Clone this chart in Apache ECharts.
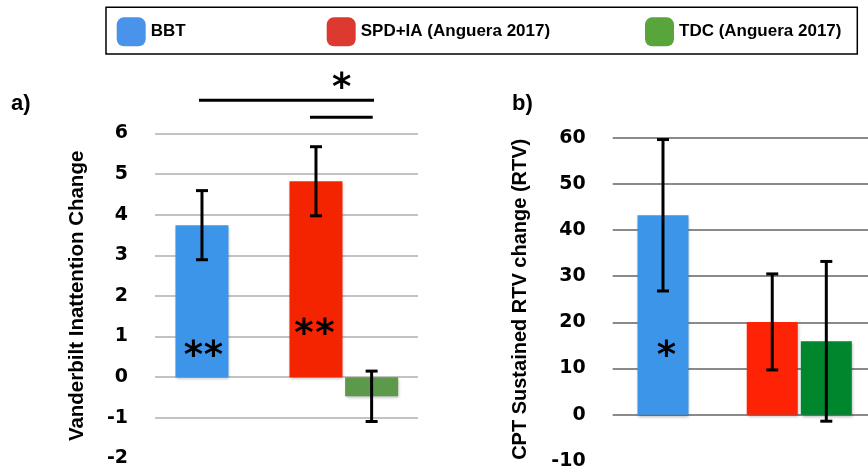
<!DOCTYPE html>
<html><head><meta charset="utf-8">
<script src="https://cdn.jsdelivr.net/npm/echarts@6/dist/echarts.min.js"></script>
<style>html,body{margin:0;padding:0;background:#fff}#c{width:868px;height:475px}</style>
</head><body><div id="c"></div>
<script>
// ---- data ----
const groups = ['BBT', 'Anguera 2017'];
const seriesNames = ['BBT', 'SPD+IA (Anguera 2017)', 'TDC (Anguera 2017)'];
// panel a) Vanderbilt Inattention Change
const aBBT = [3.74, null];
const aSPD = [null, 4.82];
const aTDC = [null, -0.47];
const aBBTerr = [0.85, null];
const aSPDerr = [null, 0.85];
const aTDCerr = [null, 0.62];
const aTicks = [-2, -1, 0, 1, 2, 3, 4, 5, 6];
// panel b) CPT Sustained RTV change (RTV)
const bBBT = [43.2, null];
const bSPD = [null, 20.1];
const bTDC = [null, 15.9];
const bBBTerr = [16.4, null];
const bSPDerr = [null, 10.4];
const bTDCerr = [null, 17.3];
const bTicks = [-10, 0, 10, 20, 30, 40, 50, 60];

// ---- styles ----
const legendColors = ['#4a93ea', '#dc3a30', '#57a53b'];
const aColors = ['#3d95ea', '#f42400', '#5c994b'];
const bColors = ['#3d95ea', '#ff2306', '#00872e'];
const SANS = 'Liberation Sans';
const tickFont = {fontFamily: 'DejaVu Sans', fontWeight: 'bold', fontSize: 19, color: '#000'};

const chart = echarts.init(document.getElementById('c'), null, {renderer: 'canvas'});

function bgAxes(ticks, grid, gridColor) {
  const lineColors = ticks.map((t, i) => i === 0 ? 'rgba(0,0,0,0)' : gridColor);
  return {
    x: {type: 'value', gridIndex: grid, show: false, min: 0, max: 1},
    y: {type: 'value', gridIndex: grid, min: ticks[0], max: ticks[ticks.length - 1],
        interval: ticks[1] - ticks[0],
        axisLine: {show: false}, axisTick: {show: false},
        axisLabel: Object.assign({margin: 27}, tickFont),
        splitLine: {show: true, lineStyle: {color: lineColors, width: 2}}}
  };
}
function barAxes(ticks, grid) {
  return {
    x: {type: 'category', gridIndex: grid, data: groups, show: false},
    y: {type: 'value', gridIndex: grid, show: false, min: ticks[0], max: ticks[ticks.length - 1],
        interval: ticks[1] - ticks[0], splitLine: {show: false}}
  };
}
const shadow = {shadowColor: 'rgba(0,0,0,0.28)', shadowBlur: 3, shadowOffsetX: 1, shadowOffsetY: 2};
function barSeries(name, vals, color, ax, stack, barW, gap) {
  return {type: 'bar', name: name, data: vals.map(v => v == null ? '-' : v),
    xAxisIndex: ax, yAxisIndex: ax, stack: stack, barWidth: barW, barGap: gap,
    itemStyle: Object.assign({color: color}, shadow), silent: true, z: 3};
}
function errSeries(name, vals, errs, ax, offset) {
  const data = [];
  vals.forEach((v, i) => { if (v != null) data.push([i, v - errs[i], v + errs[i]]); });
  return {type: 'custom', name: name + ' err', xAxisIndex: ax, yAxisIndex: ax, z: 10, silent: true,
    encode: {x: 0, y: [1, 2]}, data: data,
    renderItem: function (params, api) {
      const c = api.value(0);
      const lo = api.coord([c, api.value(1)]);
      const hi = api.coord([c, api.value(2)]);
      const x = lo[0] + offset, cap = 6;
      const st = {stroke: '#000', lineWidth: 3};
      return {type: 'group', children: [
        {type: 'line', shape: {x1: x, y1: hi[1], x2: x, y2: lo[1]}, style: st},
        {type: 'line', shape: {x1: x - cap, y1: hi[1], x2: x + cap, y2: hi[1]}, style: st},
        {type: 'line', shape: {x1: x - cap, y1: lo[1], x2: x + cap, y2: lo[1]}, style: st}
      ]};
    }};
}

const aBg = bgAxes(aTicks, 0, '#c3c3c3');
const aBar = barAxes(aTicks, 1);
const bBg = bgAxes(bTicks, 2, '#8a8a8a');
const bBar = barAxes(bTicks, 3);
aBg.y.name = 'Vanderbilt Inattention Change';
bBg.y.name = 'CPT Sustained RTV change (RTV)';
[aBg, bBg].forEach((a, i) => {
  a.y.nameLocation = 'middle'; a.y.nameRotate = 90; a.y.nameGap = i === 0 ? 67 : 82;
  a.y.nameTextStyle = {fontFamily: SANS, fontWeight: 'bold', fontSize: i === 0 ? 20.5 : 20, color: '#000'};
});

const aW = 53, aGap = '5%', aOff = (53 + 53 * 0.05) / 2;
const bW = 51, bGap = '6%', bOff = (51 + 51 * 0.06) / 2;

function star(x, y) {
  return {type: 'text', x: x, y: y, z: 20, style: {text: '*', font: 'bold 37px DejaVu Sans', fill: '#000', align: 'center', verticalAlign: 'middle'}};
}

const legendLeft = [116.7, 326.7, 645];
const option = {
  animation: false,
  backgroundColor: '#fff',
  grid: [
    {left: 155, right: 450, top: 133.3, bottom: 16.5},
    {left: 172.8, right: 467.2, top: 133.3, bottom: 16.5},
    {left: 612.7, right: 0, top: 137.7, bottom: 14.1},
    {left: 635.4, right: 14.1, top: 137.7, bottom: 14.1}
  ],
  xAxis: [aBg.x, aBar.x, bBg.x, bBar.x],
  yAxis: [aBg.y, aBar.y, bBg.y, bBar.y],
  legend: seriesNames.map((n, i) => ({
    data: [{name: n, icon: 'roundRect', itemStyle: {color: legendColors[i], shadowBlur: 0, shadowOffsetX: 0, shadowOffsetY: 0}}],
    left: legendLeft[i], top: 17.3, padding: 0, itemWidth: 29, itemHeight: 29, selectedMode: false,
    textStyle: {fontFamily: SANS, fontWeight: 'bold', fontSize: 17, color: '#000'}
  })),
  series: [
    barSeries(seriesNames[0], aBBT, aColors[0], 1, 'sa', aW, aGap),
    barSeries(seriesNames[1], aSPD, aColors[1], 1, 'sa', aW, aGap),
    barSeries(seriesNames[2], aTDC, aColors[2], 1, null, aW, aGap),
    errSeries('aBBT', aBBT, aBBTerr, 1, -aOff),
    errSeries('aSPD', aSPD, aSPDerr, 1, -aOff),
    errSeries('aTDC', aTDC, aTDCerr, 1, aOff),
    barSeries(seriesNames[0], bBBT, bColors[0], 3, 'sb', bW, bGap),
    barSeries(seriesNames[1], bSPD, bColors[1], 3, 'sb', bW, bGap),
    barSeries(seriesNames[2], bTDC, bColors[2], 3, null, bW, bGap),
    errSeries('bBBT', bBBT, bBBTerr, 3, -bOff),
    errSeries('bSPD', bSPD, bSPDerr, 3, -bOff),
    errSeries('bTDC', bTDC, bTDCerr, 3, bOff)
  ],
  graphic: [
    {type: 'rect', shape: {x: 106, y: 7.3, width: 751.3, height: 46.7}, style: {fill: 'none', stroke: '#000', lineWidth: 1.5}, z: 1},
    {type: 'text', left: 11, top: 93, style: {text: 'a)', font: 'bold 22px ' + SANS, fill: '#000'}},
    {type: 'text', left: 512, top: 93, style: {text: 'b)', font: 'bold 22px ' + SANS, fill: '#000'}},
    {type: 'line', shape: {x1: 199, y1: 100.3, x2: 374, y2: 100.3}, style: {stroke: '#000', lineWidth: 3}},
    {type: 'line', shape: {x1: 310, y1: 117.3, x2: 372.7, y2: 117.3}, style: {stroke: '#000', lineWidth: 3}},
    star(341.7, 89.5),
    star(193.3, 357), star(213.3, 357),
    star(304, 335.5), star(325, 335.5),
    star(666.3, 357.3)
  ]
};
chart.setOption(option);
</script>
</body></html>
